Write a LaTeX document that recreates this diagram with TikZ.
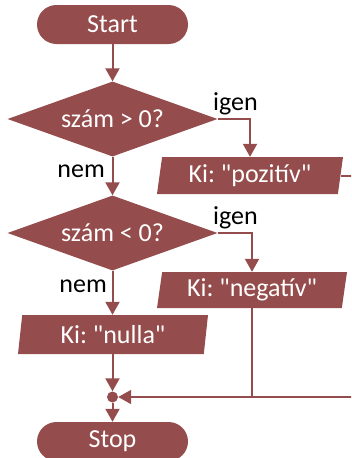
\documentclass[tikz,border=0pt]{standalone}
\usepackage{fontspec}
\setmainfont{Carlito}[Ligatures=TeXOff]
\usetikzlibrary{shapes.geometric,arrows.meta}
\definecolor{flow}{RGB}{149,76,76}
\frenchspacing
\begin{document}
\begin{tikzpicture}[x=1pt,y=-1pt,
  font=\fontsize{26}{31}\selectfont,
  terminal/.style={rectangle,rounded corners=19.5pt,fill=flow,text=white,
    minimum width=151pt,minimum height=39pt,inner sep=0pt},
  decision/.style={diamond,aspect=2.8,fill=flow,text=white,
    minimum width=210pt,minimum height=75pt,inner sep=0pt},
  io/.style={trapezium,trapezium left angle=77,trapezium right angle=103,
    trapezium stretches body,fill=flow,text=white,inner sep=0pt},
  flowline/.style={draw=flow,line width=2pt},
  arrowline/.style={flowline,-{Triangle[length=13pt,width=14pt]}},
  label/.style={text=black,inner sep=0pt}]
\useasboundingbox (0,0) rectangle (351,458);
\clip (0,0) rectangle (351,458);

% blocks
\node[terminal] (start) at (112.5,24.5) {Start};
\node[decision] (d1) at (112.5,119) {szám > 0?};
\node[io,minimum width=186pt,minimum height=37pt] (poz) at (250,175.5) {Ki: "pozitív"};
\node[decision] (d2) at (112.5,233) {szám < 0?};
\node[io,minimum width=190pt,minimum height=36pt] (neg) at (252,290) {Ki: "negatív"};
\node[io,minimum width=190pt,minimum height=39pt] (nul) at (113,334.5) {Ki: "nulla"};
\node[circle,fill=flow,minimum size=11pt,inner sep=0pt] (join) at (112.5,397) {};
\node[terminal] (stop) at (112.5,441.5) {Stop};

% branch labels
\node[label,anchor=base west] (igen1) at (213,110) {igen};
\node[label,anchor=base east] (nem1) at (105,177) {nem};
\node[label,anchor=base west] (igen2) at (213,224) {igen};
\node[label,anchor=base east] (nem2) at (107,292) {nem};

% connectors
\draw[arrowline] (start) -- (d1);
\draw[arrowline] (d1.east) -| (poz.north);
\draw[arrowline] (d1) -- (d2);
\draw[arrowline] (d2.east) -| (neg.north);
\draw[arrowline] (d2) -- (nul.north -| d2);
\draw[arrowline] (nul.south -| join) -- (join);
\draw[arrowline] (poz.east) -- ++(40,0) |- (join);
\draw[flowline] (neg.south) -- (neg.south |- join);
\draw[arrowline] (join) -- (stop);
\end{tikzpicture}
\end{document}
